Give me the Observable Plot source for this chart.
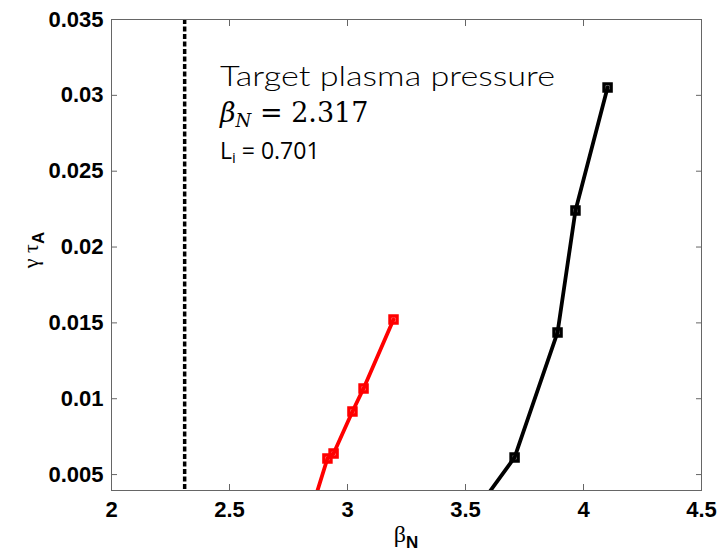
<!DOCTYPE html>
<html><head><meta charset="utf-8">
<script src="https://cdn.jsdelivr.net/npm/d3@7"></script>
<script src="https://cdn.jsdelivr.net/npm/@observablehq/plot@0.6"></script>
<style>body{margin:0;background:#fff}</style>
</head><body><div id="chart"></div>
<script>
// Series (first point of each lies below the visible y range, clipped)
const redBeta   = [2.834, 2.915, 2.941, 3.021, 3.068, 3.195];
const redGamma  = [0.002, 0.00606, 0.00639, 0.00916, 0.01068, 0.01522];
const blackBeta  = [3.515, 3.708, 3.890, 3.966, 4.102];
const blackGamma = [0.002, 0.00613, 0.01437, 0.02241, 0.03052];
const targetBeta = [2.31];
const xTicks = [2, 2.5, 3, 3.5, 4, 4.5];
const yTicks = [0.005, 0.01, 0.015, 0.02, 0.025, 0.03, 0.035];
const xDomain = [2, 4.5];
const yDomain = [0.00395, 0.035];

const red = redBeta.map((b, i) => ({beta: b, gamma: redGamma[i]}));
const black = blackBeta.map((b, i) => ({beta: b, gamma: blackGamma[i]}));

const tickFont = {fontFamily: "Liberation Sans, Arial, sans-serif", fontSize: 22, fontWeight: "bold"};

const plot = Plot.plot({
  width: 721, height: 554,
  marginLeft: 111, marginRight: 20, marginTop: 19, marginBottom: 64,
  x: {domain: xDomain},
  y: {domain: yDomain},
  style: {background: "#fff", color: "#000", fontFamily: "Liberation Sans, Arial, sans-serif"},
  marks: [
    Plot.axisX(xTicks, {anchor: "bottom", tickSize: -6, tickPadding: 17, tickFormat: d => String(d), label: null, stroke: "#666", fill: "#000", ...tickFont}),
    Plot.axisX(xTicks, {anchor: "top", tickSize: -6, tickFormat: () => "", label: null, stroke: "#666"}),
    Plot.axisY(yTicks, {anchor: "left", tickSize: -6, tickPadding: 14, tickFormat: d => String(d), label: null, stroke: "#666", fill: "#000", ...tickFont}),
    Plot.axisY(yTicks, {anchor: "right", tickSize: -6, tickFormat: () => "", label: null, stroke: "#666"}),
    Plot.ruleX(targetBeta, {stroke: "#000", strokeWidth: 3.5, strokeDasharray: "5,2.5"}),
    Plot.line(red, {x: "beta", y: "gamma", stroke: "#ff0000", strokeWidth: 3.8, clip: true}),
    Plot.dot(red, {x: "beta", y: "gamma", symbol: "square", r: 4, stroke: "#ff0000", strokeWidth: 3.4, fill: "none", clip: true}),
    Plot.line(black, {x: "beta", y: "gamma", stroke: "#000", strokeWidth: 3.8, clip: true}),
    Plot.dot(black, {x: "beta", y: "gamma", symbol: "square", r: 4, stroke: "#000", strokeWidth: 3.4, fill: "none", clip: true}),
    Plot.frame({stroke: "#666", strokeWidth: 1})
  ]
});

const svg = d3.select(plot);
// y label: γ τ_A
const yl = svg.append("text").attr("transform", "translate(38,250) rotate(-90)")
  .attr("text-anchor", "middle").attr("font-family", "Liberation Serif, serif").attr("font-size", 22).attr("fill", "#000");
yl.append("tspan").text("γ τ");
yl.append("tspan").attr("dy", 6).attr("font-family", "Liberation Sans, Arial, sans-serif").attr("font-weight", "bold").attr("font-size", 17).text("A");
// x label: β_N
const xl = svg.append("text").attr("x", 406).attr("y", 542).attr("text-anchor", "middle")
  .attr("font-family", "Liberation Serif, serif").attr("font-size", 24).attr("fill", "#000");
xl.append("tspan").text("β");
xl.append("tspan").attr("dy", 6).attr("font-family", "Liberation Sans, Arial, sans-serif").attr("font-weight", "bold").attr("font-size", 17).text("N");

// annotation
const a1 = svg.append("text").attr("x", 220).attr("y", 86).attr("text-anchor", "start").attr("font-family", "Lato, sans-serif").attr("font-weight", 300).attr("font-size", 27).attr("fill", "#000")
  .attr("textLength", 335).attr("lengthAdjust", "spacingAndGlyphs").text("Target plasma pressure");
const a2 = svg.append("text").attr("x", 220).attr("y", 122).attr("text-anchor", "start").attr("font-family", "DejaVu Serif, serif").attr("font-size", 27).attr("fill", "#000");
a2.append("tspan").attr("font-style", "italic").text("β");
a2.append("tspan").attr("font-style", "italic").attr("font-size", 18).attr("dy", 5).text("N");
a2.append("tspan").attr("dy", -5).text(" = 2.317");
const a3 = svg.append("text").attr("x", 220).attr("y", 159).attr("text-anchor", "start").attr("font-family", "Open Sans, sans-serif").attr("font-size", 23).attr("fill", "#000");
a3.append("tspan").text("L");
a3.append("tspan").attr("font-size", 15).attr("dy", 4).text("i");
a3.append("tspan").attr("dy", -4).text(" = 0.701");

document.getElementById("chart").appendChild(plot);
</script>
</body></html>
